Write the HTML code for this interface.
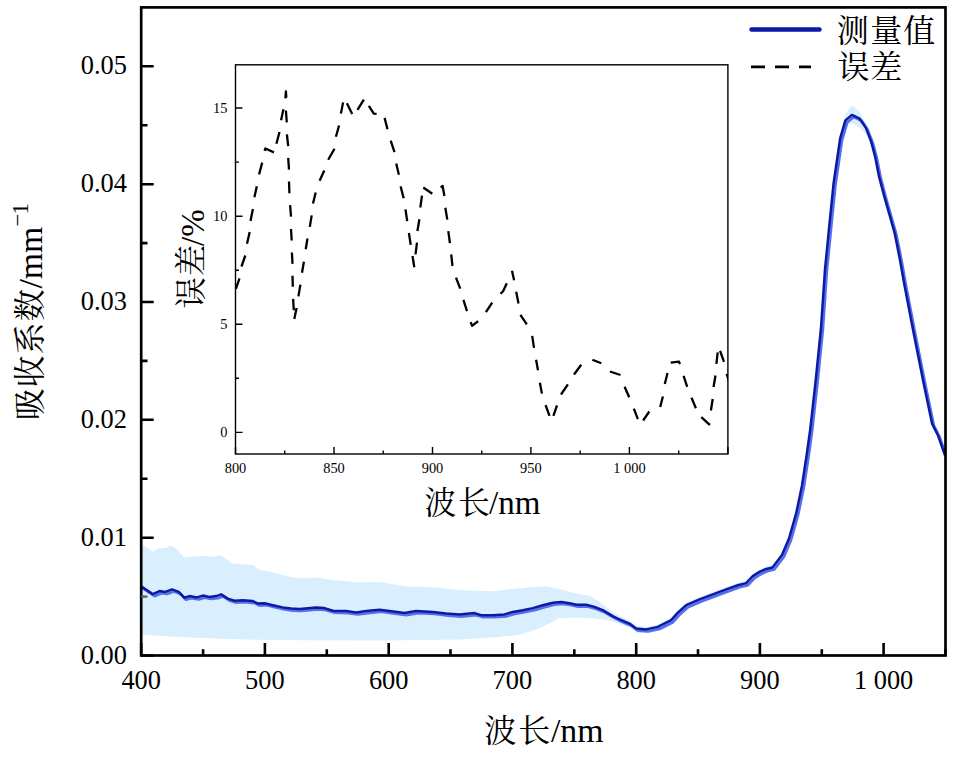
<!DOCTYPE html>
<html><head><meta charset="utf-8"><title>吸收系数</title>
<style>
html,body{margin:0;padding:0;background:#fff;}
body{width:960px;height:763px;overflow:hidden;}
svg{display:block;}
.t{font-family:"Liberation Serif","Noto Serif CJK SC",serif;fill:#000;}
.c{font-family:"Liberation Serif","Noto Serif CJK SC",serif;fill:#000;font-weight:300;}
</style></head><body>
<svg width="960" height="763" viewBox="0 0 960 763">
<defs><clipPath id="ax"><rect x="141.2" y="7.4" width="804.3" height="648.1"/></clipPath>
<clipPath id="iax"><rect x="235.5" y="64.8" width="492.4" height="389.2"/></clipPath></defs>
<rect width="960" height="763" fill="#fff"/>

<g clip-path="url(#ax)">
<polygon points="141.2,544.0 153.3,551.7 158.3,548.3 165.0,548.0 170.8,545.8 175.8,548.3 184.2,557.5 190.0,556.7 203.3,555.8 211.7,556.7 220.0,555.3 223.3,556.7 231.7,563.3 243.3,564.2 253.3,565.0 258.3,569.2 273.3,572.5 290.0,576.7 300.0,578.3 316.7,577.5 333.3,580.0 358.3,582.5 380.0,582.0 393.3,584.2 408.3,586.7 425.0,586.7 441.7,588.0 460.0,590.3 493.3,591.3 510.0,589.2 526.7,587.5 546.7,586.3 560.0,589.2 576.7,593.7 590.0,595.8 601.7,603.3 613.3,612.3 630.0,621.0 636.7,626.0 646.7,626.8 658.3,624.3 671.7,617.6 678.3,610.1 686.7,602.6 700.0,596.8 713.3,591.8 726.7,586.8 738.3,582.6 746.7,580.5 753.3,573.5 760.0,569.3 765.9,566.6 773.0,564.9 782.5,552.4 789.5,535.9 796.6,511.1 802.5,482.8 807.2,452.2 810.8,426.2 816.2,377.8 821.5,325.4 825.5,266.8 830.1,220.0 834.1,180.7 840.6,134.2 845.9,113.0 852.4,105.3 860.2,112.5 866.4,124.4 871.7,138.9 875.8,154.8 879.4,173.3 884.7,193.5 889.9,211.8 895.1,230.2 900.4,256.8 904.8,281.7 913.6,327.7 924.2,380.8 932.6,421.1 938.4,432.6 945.5,452.8 945.5,459.2 938.4,439.0 932.6,427.5 924.2,387.2 913.6,334.1 904.8,288.1 900.4,263.2 895.1,236.6 889.9,218.2 884.7,199.9 879.4,179.8 875.8,161.6 871.7,146.7 866.4,135.0 860.2,128.3 852.4,123.3 845.9,126.0 840.6,143.0 834.1,187.1 830.1,226.4 825.5,273.2 821.5,331.8 816.2,384.2 810.8,432.6 807.2,458.6 802.5,489.2 796.6,517.5 789.5,542.3 782.5,558.8 773.0,571.3 765.9,573.0 760.0,575.7 753.3,579.9 746.7,586.9 738.3,589.0 726.7,593.2 713.3,598.2 700.0,603.2 686.7,609.0 678.3,616.5 671.7,624.0 658.3,630.7 646.7,633.2 636.7,632.4 630.0,627.4 618.0,623.3 606.7,620.0 593.3,618.3 576.7,617.5 558.3,618.3 550.0,623.3 535.0,630.0 518.3,635.0 493.3,637.5 460.0,639.5 380.0,640.5 300.0,640.3 256.7,639.7 223.3,638.7 190.0,637.5 156.7,635.8 141.2,634.2" fill="#daeffd"/>
<polyline points="142.5,588.1 154.6,596.1 161.3,593.1 167.1,593.9 173.8,591.4 180.5,593.9 186.0,599.7 191.3,598.1 198.8,599.4 204.6,597.6 211.3,598.9 218.0,598.1 223.0,596.4 229.6,600.6 236.3,602.7 244.6,602.2 254.6,603.1 259.6,605.6 266.3,605.2 274.6,607.2 284.6,609.4 293.0,610.6 301.3,610.9 318.0,609.4 326.3,610.1 334.6,612.7 348.0,613.1 358.0,614.4 368.0,613.1 381.3,611.7 391.3,613.1 406.3,615.1 418.0,613.1 434.6,613.9 448.0,615.6 461.3,616.6 476.3,615.1 483.0,617.2 494.6,617.2 506.3,616.4 514.6,613.9 524.6,612.2 534.6,610.1 544.6,607.2 554.6,604.7 563.0,603.9 571.3,605.2 578.0,606.7 588.0,606.7 596.3,608.9 604.6,612.2 614.6,618.1 619.6,620.6 631.3,625.6 638.0,630.6 648.0,631.4 659.6,628.9 673.0,622.2 679.6,614.7 688.0,607.2 701.3,601.4 714.6,596.4 728.0,591.4 739.6,587.2 748.0,585.1 754.6,578.1 761.3,573.9 767.2,571.2 774.3,569.5 783.8,557.0 790.8,540.5 797.9,515.7 803.8,487.4 808.5,456.8 812.1,430.8 817.5,382.4 822.8,330.0 826.8,271.4 831.4,224.6 835.4,185.3 841.9,140.7 847.2,122.4 853.7,116.9 861.5,120.7 867.7,129.9 873.0,143.6 877.1,159.4 880.7,177.9 886.0,198.1 891.2,216.4 896.4,234.8 901.7,261.4 906.1,286.3 914.9,332.3 925.5,385.4 933.9,425.7 939.7,437.2 946.8,457.4" fill="none" stroke="#5670ec" stroke-width="2.8" stroke-linejoin="round"/>
<polyline points="140.7,586.1 152.8,594.1 159.5,591.1 165.3,591.9 172.0,589.4 178.7,591.9 184.2,597.7 189.5,596.1 197.0,597.4 202.8,595.6 209.5,596.9 216.2,596.1 221.2,594.4 227.8,598.6 234.5,600.7 242.8,600.2 252.8,601.1 257.8,603.6 264.5,603.2 272.8,605.2 282.8,607.4 291.2,608.6 299.5,608.9 316.2,607.4 324.5,608.1 332.8,610.7 346.2,611.1 356.2,612.4 366.2,611.1 379.5,609.7 389.5,611.1 404.5,613.1 416.2,611.1 432.8,611.9 446.2,613.6 459.5,614.6 474.5,613.1 481.2,615.2 492.8,615.2 504.5,614.4 512.8,611.9 522.8,610.2 532.8,608.1 542.8,605.2 552.8,602.7 561.2,601.9 569.5,603.2 576.2,604.7 586.2,604.7 594.5,606.9 602.8,610.2 612.8,616.1 617.8,618.6 629.5,623.6 636.2,628.6 646.2,629.4 657.8,626.9 671.2,620.2 677.8,612.7 686.2,605.2 699.5,599.4 712.8,594.4 726.2,589.4 737.8,585.2 746.2,583.1 752.8,576.1 759.5,571.9 765.4,569.2 772.5,567.5 782.0,555.0 789.0,538.5 796.1,513.7 802.0,485.4 806.7,454.8 810.3,428.8 815.7,380.4 821.0,328.0 825.0,269.4 829.6,222.6 833.6,183.3 840.1,138.7 845.4,120.4 851.9,114.9 859.7,118.7 865.9,127.9 871.2,141.6 875.3,157.4 878.9,175.9 884.2,196.1 889.4,214.4 894.6,232.8 899.9,259.4 904.3,284.3 913.1,330.3 923.7,383.4 932.1,423.7 937.9,435.2 945.0,455.4" fill="none" stroke="#0b1aa4" stroke-width="2.5" stroke-linejoin="round"/>
</g>
<rect x="141.2" y="7.4" width="804.3" height="648.1" fill="none" stroke="#000" stroke-width="2.7"/>
<path d="M141.2,655.5h12.5 M141.2,537.7h12.5 M141.2,419.8h12.5 M141.2,302.0h12.5 M141.2,184.2h12.5 M141.2,66.3h12.5 M141.2,478.7h6.3 M141.2,360.9h6.3 M141.2,243.1h6.3 M141.2,125.2h6.3 M141.2,655.5v-12.5 M203.1,655.5v-6.3 M264.9,655.5v-12.5 M326.8,655.5v-6.3 M388.7,655.5v-12.5 M450.5,655.5v-6.3 M512.4,655.5v-12.5 M574.3,655.5v-6.3 M636.2,655.5v-12.5 M698.0,655.5v-6.3 M759.9,655.5v-12.5 M821.8,655.5v-6.3 M883.6,655.5v-12.5 M945.5,655.5v-6.3" stroke="#000" stroke-width="2.6" fill="none"/>
<path d="M141.2,596.6h6.3" stroke="#56646c" stroke-width="2.4"/>
<text class="t" x="127" y="663.5" font-size="26.4" text-anchor="end">0.00</text>
<text class="t" x="127" y="545.7" font-size="26.4" text-anchor="end">0.01</text>
<text class="t" x="127" y="427.8" font-size="26.4" text-anchor="end">0.02</text>
<text class="t" x="127" y="310.0" font-size="26.4" text-anchor="end">0.03</text>
<text class="t" x="127" y="192.2" font-size="26.4" text-anchor="end">0.04</text>
<text class="t" x="127" y="74.3" font-size="26.4" text-anchor="end">0.05</text>
<text class="t" x="141.2" y="689" font-size="26.4" text-anchor="middle">400</text>
<text class="t" x="264.9" y="689" font-size="26.4" text-anchor="middle">500</text>
<text class="t" x="388.7" y="689" font-size="26.4" text-anchor="middle">600</text>
<text class="t" x="512.4" y="689" font-size="26.4" text-anchor="middle">700</text>
<text class="t" x="636.2" y="689" font-size="26.4" text-anchor="middle">800</text>
<text class="t" x="759.9" y="689" font-size="26.4" text-anchor="middle">900</text>
<text class="t" x="883.6" y="689" font-size="26.4" text-anchor="middle">1 000</text>
<text style='font-family:"Liberation Serif","Noto Serif CJK SC",serif;font-weight:400' x="484.2 518.2" y="741.8" font-size="32">波长</text>
<text style='font-family:"Liberation Serif",serif' x="550.9" y="741.8" font-size="33.8">/nm</text>
<g transform="translate(41.8,0) rotate(-90)">
<text style='font-family:"Liberation Serif","Noto Serif CJK SC",serif;font-weight:400' x="-420.2 -387.4 -354.6 -321.2" y="-1.3" font-size="32">吸收系数</text>
<text style='font-family:"Liberation Serif",serif' x="-288.6" y="0" font-size="33.8">/mm</text>
<text style='font-family:"Liberation Serif",serif' x="-226.6" y="-16.6" font-size="22.5">−</text>
<text style='font-family:"Liberation Serif",serif' x="-214.6" y="-13.9" font-size="22.5">1</text>
</g>
<line x1="751.5" y1="29.5" x2="819.5" y2="29.5" stroke="#0b1aa8" stroke-width="4.4" stroke-linecap="round"/>
<line x1="751" y1="66.9" x2="811" y2="66.9" stroke="#000" stroke-width="2.6" stroke-dasharray="14 10"/>
<text style='font-family:"Liberation Serif","Noto Serif CJK SC",serif;font-weight:400' x="836.8 870.3 903.3" y="41.8" font-size="32">测量值</text>
<text style='font-family:"Liberation Serif","Noto Serif CJK SC",serif;font-weight:400' x="837.4 870.3" y="77.6" font-size="32">误差</text>
<rect x="235.5" y="64.8" width="492.4" height="389.2" fill="#fff"/>
<g clip-path="url(#iax)"><path d="M235.9,288.8 L239.5,278.3 M241.5,266.5 L245.3,255.5 M247.0,243.7 L249.7,231.9 M250.5,220.9 L252.9,209.1 M254.4,197.3 L256.8,186.3 M259.1,174.4 L262.2,162.6 M264.6,150.8 L265.4,148.5 L274.0,152.4 M276.4,143.7 L279.5,132.0 M281.1,120.2 L283.4,109.2 M285.4,98.4 L285.9,91.5 L286.3,97.5 M285.9,110.5 L286.8,122.3 M286.9,134.3 L288.2,146.1 M288.2,157.9 L289.0,169.7 M289.0,181.5 L289.4,193.3 M290.1,205.2 L291.0,216.6 M291.0,229.0 L291.7,240.5 M291.9,252.5 L292.5,263.9 M292.5,275.8 L292.8,286.8 M293.1,298.9 L293.8,310.2 M294.3,319.1 L296.6,308.1 M298.4,296.4 L300.4,284.6 M302.0,272.8 L303.9,261.8 M305.7,249.2 L307.5,238.5 M309.8,226.9 L311.7,215.4 M313.0,203.6 L315.7,192.6 M319.6,180.8 L324.3,170.5 M328.2,159.8 L334.5,148.7 M335.9,136.8 L339.1,125.5 M340.9,113.6 L343.1,102.4 M346.9,103.3 L352.2,113.9 M357.5,109.9 L363.8,99.6 M368.8,105.8 L373.8,113.6 L376.6,113.9 M384.6,117.9 L387.5,129.2 M390.7,140.7 L394.5,152.1 M396.2,163.5 L398.9,174.8 M400.6,186.4 L403.7,198.2 M405.5,209.4 L407.2,221.2 M408.9,233.0 L410.7,244.8 M412.5,256.0 L414.3,267.3 M415.5,254.4 L417.0,242.6 M417.4,231.0 L419.4,219.2 M420.3,207.5 L422.0,195.7 M423.3,187.5 L432.3,193.8 M440.7,187.5 L442.6,186.0 L444.4,196.0 M445.3,207.8 L447.3,219.6 M448.3,231.1 L449.9,243.2 M451.2,254.3 L452.5,266.0 M456.0,277.6 L460.2,288.6 M463.4,299.9 L467.0,311.1 M470.7,322.2 L472.1,325.8 L478.1,321.1 M485.9,312.2 L492.2,302.7 M500.5,293.8 L503.1,291.2 L506.8,283.3 M512.0,270.7 L514.1,280.2 M516.2,291.7 L518.5,303.5 M520.4,314.8 L526.8,324.4 M532.2,335.9 L534.0,347.8 M536.1,359.7 L538.0,370.2 M539.9,382.8 L541.9,393.6 M545.6,405.1 L549.5,415.9 M553.4,415.9 L557.0,405.4 M561.0,394.5 L567.9,384.3 M574.0,374.5 L581.2,364.7 M592.4,359.7 L601.3,363.2 M609.9,371.5 L620.5,375.0 M624.6,386.7 L629.2,397.2 M633.8,408.7 L637.9,419.2 M643.1,420.5 L649.3,411.5 M660.2,407.0 L662.9,396.5 M664.8,384.1 L667.5,373.1 M670.7,362.6 L679.0,361.6 L679.9,364.1 M683.6,375.9 L687.2,386.9 M691.5,397.8 L695.9,408.2 M701.3,417.1 L709.2,424.4 L709.7,423.1 M710.9,410.5 L712.7,399.0 M713.5,387.0 L715.5,375.5 M716.4,363.9 L717.7,352.4 M720.1,350.8 L724.0,361.8 M726.6,373.9 L729.5,382.5" fill="none" stroke="#000" stroke-width="2.3" stroke-linejoin="round"/></g>
<rect x="235.5" y="64.8" width="492.4" height="389.2" fill="none" stroke="#000" stroke-width="1.4"/>
<path d="M235.5,432.4h7 M235.5,324.3h7 M235.5,216.2h7 M235.5,108.0h7 M235.5,378.3h3.5 M235.5,270.2h3.5 M235.5,162.1h3.5 M235.5,454v-7 M284.7,454v-3.5 M334.0,454v-7 M383.2,454v-3.5 M432.5,454v-7 M481.7,454v-3.5 M530.9,454v-7 M580.2,454v-3.5 M629.4,454v-7 M678.7,454v-3.5 M727.9,454v-7" stroke="#000" stroke-width="1.4" fill="none"/>
<text class="t" x="227.5" y="437.2" font-size="14.4" text-anchor="end">0</text>
<text class="t" x="227.5" y="329.1" font-size="14.4" text-anchor="end">5</text>
<text class="t" x="227.5" y="221.0" font-size="14.4" text-anchor="end">10</text>
<text class="t" x="227.5" y="112.8" font-size="14.4" text-anchor="end">15</text>
<text class="t" x="235.5" y="473" font-size="14.4" text-anchor="middle">800</text>
<text class="t" x="334.0" y="473" font-size="14.4" text-anchor="middle">850</text>
<text class="t" x="432.5" y="473" font-size="14.4" text-anchor="middle">900</text>
<text class="t" x="530.9" y="473" font-size="14.4" text-anchor="middle">950</text>
<text class="t" x="629.4" y="473" font-size="14.4" text-anchor="middle">1 000</text>
<text style='font-family:"Liberation Serif","Noto Serif CJK SC",serif;font-weight:400' x="424.4 458.2" y="514.1" font-size="31.5">波长</text>
<text style='font-family:"Liberation Serif",serif' x="489" y="514.1" font-size="33">/nm</text>
<g transform="translate(203.5,0) rotate(-90)">
<text style='font-family:"Liberation Serif","Noto Serif CJK SC",serif;font-weight:400' x="-308.6 -276.2" y="-1.5" font-size="31.5">误差</text>
<text style='font-family:"Liberation Serif",serif' x="-246" y="0" font-size="33">/%</text>
</g>
</svg>
</body></html>
